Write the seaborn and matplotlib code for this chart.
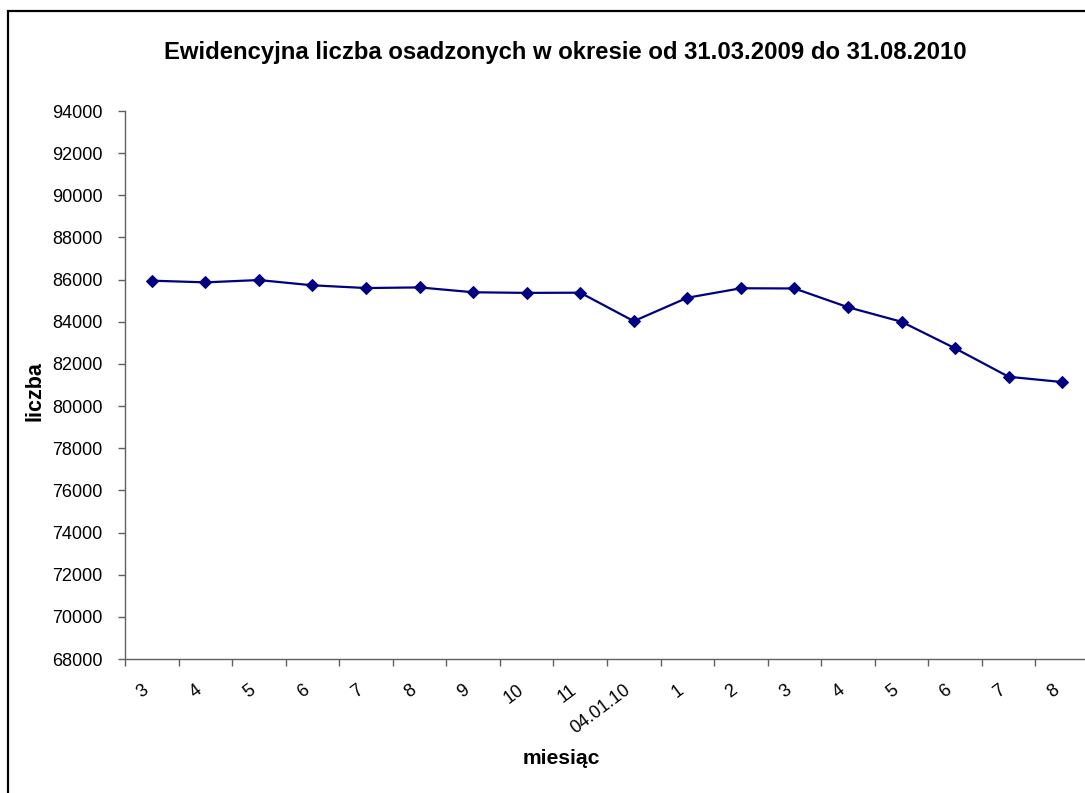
"""Ewidencyjna liczba osadzonych 03.2009 - 08.2010 (line chart)."""
import matplotlib
matplotlib.use("Agg")
import matplotlib.pyplot as plt
import matplotlib.patches as mpatches
import matplotlib.transforms as mtransforms
import numpy as np
import pandas as pd
import seaborn as sns

# data
months = ["3", "4", "5", "6", "7", "8", "9", "10", "11", "04.01.10",
          "1", "2", "3", "4", "5", "6", "7", "8"]
liczba = [85950, 85870, 85980, 85730, 85600, 85630, 85400, 85370, 85380,
          84030, 85140, 85590, 85580, 84690, 84000, 82740, 81390, 81140]
y_ticks = list(range(68000, 94001, 2000))

W, H, DPI = 1085, 793, 100
NAVY = "#000080"
AXIS_GREY = "#606060"

sns.set_theme(style="white")
plt.rcParams["font.family"] = ["Liberation Sans", "DejaVu Sans"]
plt.rcParams.update({"text.color": "black", "axes.labelcolor": "black",
                     "xtick.color": "black", "ytick.color": "black"})

df = pd.DataFrame({"pos": np.arange(len(months)), "liczba": liczba})

fig = plt.figure(figsize=(W / DPI, H / DPI), dpi=DPI)
# axes box in pixels: left 125, right 1089, top 111, bottom 659
ax = fig.add_axes([125 / W, (H - 659) / H, (1089 - 125) / W, 548 / H])

sns.lineplot(data=df, x="pos", y="liczba", ax=ax, color=NAVY, lw=1.6,
             marker="D", markersize=6.5, markeredgecolor=NAVY)

ax.set_xlim(-0.5, len(months) - 0.5)
ax.set_ylim(y_ticks[0], y_ticks[-1])
ax.set_yticks(y_ticks)
ax.set_yticklabels([str(v) for v in y_ticks], fontsize=13)

# major ticks at category boundaries, labels on minor ticks at centres
ax.set_xticks(np.arange(-0.5, len(months), 1.0))
ax.set_xticklabels([])
ax.set_xticks(df["pos"], minor=True)
labels = ax.set_xticklabels(months, minor=True, fontsize=13, rotation=37,
                            ha="right", va="top")
shift = mtransforms.ScaledTranslation(2 / DPI, 0, fig.dpi_scale_trans)
for lab in labels:
    lab.set_transform(lab.get_transform() + shift)
ax.tick_params(axis="x", which="major", direction="out", length=5,
               width=1, color=AXIS_GREY, bottom=True)
ax.tick_params(axis="x", which="minor", length=0, pad=16, bottom=True)
ax.tick_params(axis="y", direction="out", length=5, width=1,
               color=AXIS_GREY, labelcolor="black", left=True, pad=11)

for side in ("top", "right"):
    ax.spines[side].set_visible(False)
for side in ("left", "bottom"):
    ax.spines[side].set_color(AXIS_GREY)
    ax.spines[side].set_linewidth(1)
ax.grid(False)
ax.set_xlabel("")
ax.set_ylabel("")

fig.text(565 / W, 1 - 52 / H,
         "Ewidencyjna liczba osadzonych w okresie od 31.03.2009 do 31.08.2010",
         ha="center", va="center", fontsize=17.2, fontweight="bold")
fig.text(35 / W, 1 - 391 / H, "liczba", rotation=90, ha="center",
         va="center", fontsize=15.5, fontweight="bold")
fig.text(561 / W, 1 - 758 / H, "miesiąc", ha="center", va="center",
         fontsize=15.2, fontweight="bold")

# chart border (cropped at right and bottom in the original)
fig.patches.append(mpatches.Rectangle((8 / W, -0.1), 1.2, 1 - 11 / H + 0.1,
                                      transform=fig.transFigure, fill=False,
                                      ec="black", lw=1.6))

fig.savefig("out.png", dpi=DPI)
plt.close(fig)
